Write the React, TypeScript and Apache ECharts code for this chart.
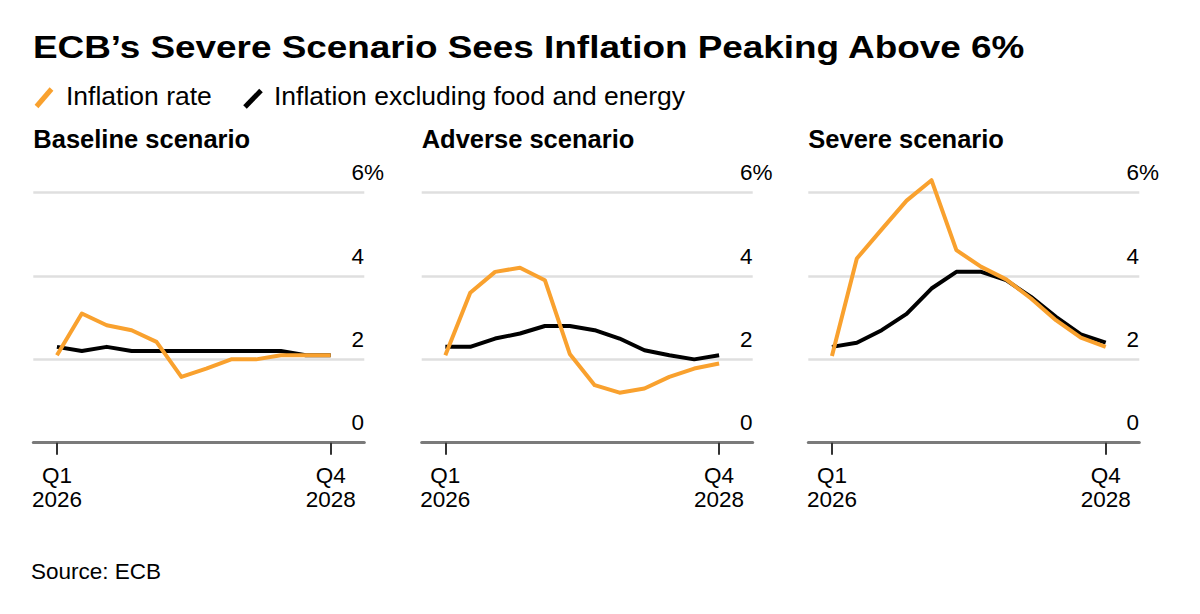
import React, { useEffect, useRef } from "react";
import * as echarts from "echarts";

const titleText = "ECB’s Severe Scenario Sees Inflation Peaking Above 6%";
const sourceText = "Source: ECB";
const seriesNames = ["Inflation rate", "Inflation excluding food and energy"];
const seriesColors = ["#F9A12E", "#000000"];
const panelTitles = ["Baseline scenario", "Adverse scenario", "Severe scenario"];
const quarters = [
  "Q1 2026", "Q2 2026", "Q3 2026", "Q4 2026",
  "Q1 2027", "Q2 2027", "Q3 2027", "Q4 2027",
  "Q1 2028", "Q2 2028", "Q3 2028", "Q4 2028",
];
const xTickIndices = [0, 11];
const yTicks = [0, 2, 4, 6];

const baselineHeadline = [2.1, 3.1, 2.82, 2.7, 2.42, 1.58, 1.78, 2.0, 2.0, 2.1, 2.1, 2.1];
const baselineCore = [2.3, 2.2, 2.3, 2.2, 2.2, 2.2, 2.2, 2.2, 2.2, 2.2, 2.1, 2.1];
const adverseHeadline = [2.1, 3.6, 4.1, 4.2, 3.9, 2.13, 1.38, 1.2, 1.3, 1.58, 1.78, 1.9];
const adverseCore = [2.3, 2.3, 2.5, 2.62, 2.8, 2.8, 2.7, 2.5, 2.22, 2.1, 2.0, 2.1];
const severeHeadline = [2.08, 4.42, 5.12, 5.81, 6.3, 4.62, 4.22, 3.92, 3.46, 2.94, 2.52, 2.3];
const severeCore = [2.3, 2.4, 2.7, 3.09, 3.7, 4.1, 4.1, 3.9, 3.5, 3.02, 2.6, 2.4];

const panelHeadline = [baselineHeadline, adverseHeadline, severeHeadline];
const panelCore = [baselineCore, adverseCore, severeCore];

const FONT = '"Liberation Sans", Arial, sans-serif';

export default function App() {
  const ref = useRef<HTMLDivElement>(null);
  useEffect(() => {
    if (!ref.current) return;
    const chart = echarts.init(ref.current, null, { renderer: "svg" });
    const gridLefts = [33.3, 421.7, 808.3];
    const gridWidth = 331;
    const gridTop = 192.7;
    const gridHeight = 250;

    const grids = gridLefts.map((l) => ({
      left: l,
      top: gridTop,
      width: gridWidth,
      height: gridHeight,
      containLabel: false,
    }));

    const xAxes = gridLefts.map((_, k) => ({
      type: "value",
      gridIndex: k,
      min: -0.95,
      max: 12.35,
      splitLine: { show: false },
      axisLine: { show: true, lineStyle: { color: "#7a7a7a", width: 3 } },
      axisTick: {
        show: true,
        customValues: xTickIndices,
        length: 12,
        lineStyle: { color: "#333333", width: 2 },
      },
      axisLabel: {
        show: true,
        customValues: xTickIndices,
        formatter: (v: number) => quarters[Math.round(v)].replace(" ", "\n"),
        fontFamily: FONT,
        fontSize: 22.5,
        lineHeight: 24,
        color: "#000",
        margin: 20.5,
        align: "center",
      },
    }));

    const yAxes = gridLefts.map((_, k) => ({
      type: "value",
      gridIndex: k,
      position: "right",
      min: 0,
      max: 6,
      interval: 2,
      axisLine: { show: false },
      axisTick: { show: false },
      splitLine: { show: true, lineStyle: { color: "#dfdfdf", width: 2.5 } },
      axisLabel: {
        show: true,
        customValues: yTicks,
        formatter: (v: number) => (v === yTicks[yTicks.length - 1] ? v + "%" : String(v)),
        fontFamily: FONT,
        fontSize: 22.5,
        lineHeight: 22,
        color: "#000",
        align: "left",
        verticalAlign: "bottom",
        margin: -12.7,
        padding: [0, 0, 9, 0],
      },
    }));

    const series: any[] = [];
    for (let k = 0; k < 3; k++) {
      series.push({
        name: seriesNames[1],
        type: "line",
        xAxisIndex: k,
        yAxisIndex: k,
        data: panelCore[k].map((v, i) => [i, v]),
        symbol: "none",
        showSymbol: false,
        clip: false,
        lineStyle: { color: seriesColors[1], width: 4, join: "round" },
        z: 3,
      });
      series.push({
        name: seriesNames[0],
        type: "line",
        xAxisIndex: k,
        yAxisIndex: k,
        data: panelHeadline[k].map((v, i) => [i, v]),
        symbol: "none",
        showSymbol: false,
        clip: false,
        lineStyle: { color: seriesColors[0], width: 4, join: "round" },
        z: 4,
      });
    }

    const graphic: any[] = [
      {
        type: "text",
        x: 33,
        y: 46.7,
        scaleX: 1.153,
        style: {
          text: titleText,
          font: `bold 32px ${FONT}`,
          fill: "#000",
          textVerticalAlign: "middle",
          verticalAlign: "middle",
        },
      },
      {
        type: "line",
        shape: { x1: 36.5, y1: 106.5, x2: 51.5, y2: 89 },
        style: { stroke: seriesColors[0], lineWidth: 5 },
      },
      {
        type: "text",
        x: 66,
        y: 95.5,
        style: {
          text: seriesNames[0],
          font: `26.5px ${FONT}`,
          fill: "#000",
          textVerticalAlign: "middle",
          verticalAlign: "middle",
        },
      },
      {
        type: "line",
        shape: { x1: 245, y1: 107, x2: 261, y2: 90.5 },
        style: { stroke: seriesColors[1], lineWidth: 5 },
      },
      {
        type: "text",
        x: 274,
        y: 95.5,
        style: {
          text: seriesNames[1],
          font: `26.5px ${FONT}`,
          fill: "#000",
          textVerticalAlign: "middle",
          verticalAlign: "middle",
        },
      },
      ...panelTitles.map((t, k) => ({
        type: "text",
        x: gridLefts[k],
        y: 139,
        style: {
          text: t,
          font: `bold 25.5px ${FONT}`,
          fill: "#000",
          textVerticalAlign: "middle",
          verticalAlign: "middle",
        },
      })),
      {
        type: "text",
        x: 31,
        y: 571,
        style: {
          text: sourceText,
          font: `22.5px ${FONT}`,
          fill: "#000",
          textVerticalAlign: "middle",
          verticalAlign: "middle",
        },
      },
    ];

    chart.setOption({
      animation: false,
      backgroundColor: "#ffffff",
      grid: grids,
      xAxis: xAxes,
      yAxis: yAxes,
      series,
      graphic,
    });
    return () => chart.dispose();
  }, []);
  return (
    <div
      ref={ref}
      style={{ position: "absolute", left: 0, top: 0, width: 1200, height: 614, background: "#fff" }}
    />
  );
}
